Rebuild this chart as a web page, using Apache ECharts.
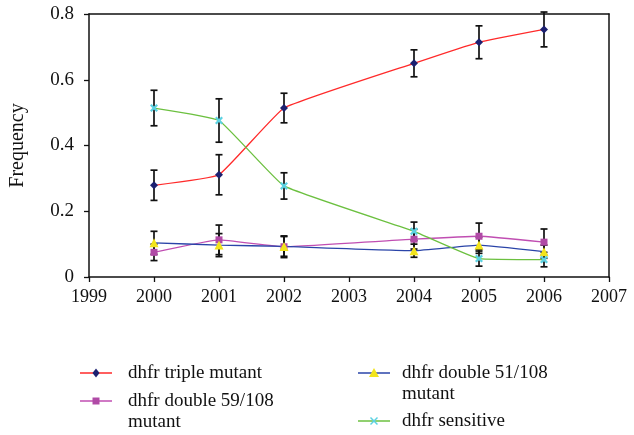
<!DOCTYPE html>
<html><head><meta charset="utf-8">
<script src="https://cdn.jsdelivr.net/npm/echarts@6/dist/echarts.min.js"></script>
<style>html,body{margin:0;padding:0;background:#fff}#c{width:634px;height:435px}</style>
</head><body><div id="c"></div>
<script>
var years = [2000, 2001, 2002, 2004, 2005, 2006];
var seriesNames = ['dhfr triple mutant', 'dhfr double 59/108 mutant', 'dhfr double 51/108 mutant', 'dhfr sensitive'];
var tripleVals = [0.279, 0.311, 0.514, 0.650, 0.714, 0.753];
var tripleErr = [0.046, 0.061, 0.045, 0.041, 0.050, 0.053];
var d59Vals = [0.075, 0.113, 0.092, 0.115, 0.124, 0.106];
var d59Err = [0.025, 0.045, 0.033, 0.030, 0.040, 0.040];
var d51Vals = [0.104, 0.097, 0.093, 0.080, 0.097, 0.077];
var d51Err = [0.035, 0.035, 0.030, 0.020, 0.025, 0.020];
var sensVals = [0.514, 0.476, 0.277, 0.139, 0.056, 0.053];
var sensErr = [0.054, 0.066, 0.040, 0.028, 0.023, 0.022];
var xTicks = [1999, 2007, 1];
var yTicks = [0, 0.8, 0.2];

var lineColors = ['#ff2a2a', '#c04eb2', '#2a44a8', '#6cc040'];
var symColors = ['#1c2070', '#b04aa6', '#f2e41c', '#5cd2e2'];
var xPath = 'path://M0,2L2,0L5,3L8,0L10,2L7,5L10,8L8,10L5,7L2,10L0,8L3,5Z';
var symbols = ['diamond', 'rect', 'triangle', xPath];
var symSizes = [8, 7, 9, 8];
var allVals = [tripleVals, d59Vals, d51Vals, sensVals];
var allErr = [tripleErr, d59Err, d51Err, sensErr];

var FONT = '"Liberation Serif","DejaVu Serif",serif';

function pairs(vals) { return years.map(function (y, i) { return [y, vals[i]]; }); }

var series = [];
allVals.forEach(function (vals, k) {
  series.push({
    type: 'custom', name: seriesNames[k] + ' err', z: 3,
    data: years.map(function (y, i) { return [y, vals[i] - allErr[k][i], vals[i] + allErr[k][i]]; }),
    renderItem: function (params, api) {
      var lo = api.coord([api.value(0), api.value(1)]);
      var hi = api.coord([api.value(0), api.value(2)]);
      var w = 3.5;
      var st = { stroke: '#111', lineWidth: 1.7 };
      return { type: 'group', children: [
        { type: 'line', shape: { x1: lo[0], y1: lo[1], x2: hi[0], y2: hi[1] }, style: st },
        { type: 'line', shape: { x1: lo[0] - w, y1: lo[1], x2: lo[0] + w, y2: lo[1] }, style: st },
        { type: 'line', shape: { x1: hi[0] - w, y1: hi[1], x2: hi[0] + w, y2: hi[1] }, style: st }
      ]};
    },
    silent: true
  });
});
allVals.forEach(function (vals, k) {
  series.push({
    type: 'line', name: seriesNames[k], data: pairs(vals), z: 4,
    smooth: 0.1,
    symbol: symbols[k], symbolSize: symSizes[k], showSymbol: true,
    lineStyle: { color: lineColors[k], width: 1.3 },
    itemStyle: { color: symColors[k], borderWidth: 0 },
    emphasis: { disabled: true }
  });
});

var legendPos = [
  { lx: 80, ly: 373, tx: 128, lines: ['dhfr triple mutant'] },
  { lx: 80, ly: 401, tx: 128, lines: ['dhfr double 59/108', 'mutant'] },
  { lx: 358, ly: 373, tx: 402, lines: ['dhfr double 51/108', 'mutant'] },
  { lx: 358, ly: 421, tx: 402, lines: ['dhfr sensitive'] }
];
var graphics = [];
legendPos.forEach(function (p, k) {
  graphics.push({ type: 'line', shape: { x1: p.lx, y1: p.ly, x2: p.lx + 32, y2: p.ly }, style: { stroke: lineColors[k], lineWidth: 1.5 } });
  var cx = p.lx + 16, cy = p.ly;
  var sym;
  if (k === 0) sym = { type: 'polygon', shape: { points: [[cx, cy - 4.5], [cx + 3.5, cy], [cx, cy + 4.5], [cx - 3.5, cy]] }, style: { fill: symColors[0] } };
  else if (k === 1) sym = { type: 'rect', shape: { x: cx - 3.5, y: cy - 3.5, width: 7, height: 7 }, style: { fill: symColors[1] } };
  else if (k === 2) sym = { type: 'polygon', shape: { points: [[cx, cy - 5], [cx + 5, cy + 4], [cx - 5, cy + 4]] }, style: { fill: symColors[2] } };
  else sym = { type: 'group', children: [
    { type: 'line', shape: { x1: cx - 3.5, y1: cy - 3.5, x2: cx + 3.5, y2: cy + 3.5 }, style: { stroke: symColors[3], lineWidth: 1.5 } },
    { type: 'line', shape: { x1: cx - 3.5, y1: cy + 3.5, x2: cx + 3.5, y2: cy - 3.5 }, style: { stroke: symColors[3], lineWidth: 1.5 } }
  ]};
  graphics.push(sym);
  p.lines.forEach(function (t, j) {
    graphics.push({ type: 'text', x: p.tx, y: p.ly + j * 21, style: { text: t, font: '19px ' + FONT, fill: '#111', textVerticalAlign: 'middle', verticalAlign: 'middle' } });
  });
});

var axisLine = { show: true, onZero: false, lineStyle: { color: '#111', width: 1.5 } };
var option = {
  animation: false,
  backgroundColor: '#fff',
  grid: { left: 84, top: 14, right: 25, bottom: 158, containLabel: false },
  xAxis: [
    { type: 'value', min: xTicks[0], max: xTicks[1], interval: xTicks[2],
      axisLine: axisLine, axisTick: { show: true, length: 5, lineStyle: { color: '#111', width: 1.3 } },
      axisLabel: { color: '#111', fontFamily: FONT, fontSize: 18, margin: 11, formatter: function (v) { return String(v); } },
      splitLine: { show: false } },
    { type: 'value', position: 'top', min: xTicks[0], max: xTicks[1], interval: xTicks[2],
      axisLine: axisLine, axisTick: { show: false }, axisLabel: { show: false }, splitLine: { show: false } }
  ],
  yAxis: [
    { type: 'value', min: yTicks[0], max: yTicks[1], interval: yTicks[2],
      name: 'Frequency', nameLocation: 'middle', nameGap: 61, nameRotate: 90,
      nameTextStyle: { color: '#111', fontFamily: FONT, fontSize: 20 },
      axisLine: axisLine, axisTick: { show: true, length: 5, lineStyle: { color: '#111', width: 1.3 } },
      axisLabel: { color: '#111', fontFamily: FONT, fontSize: 19, margin: 15 },
      splitLine: { show: false } },
    { type: 'value', position: 'right', min: yTicks[0], max: yTicks[1], interval: yTicks[2],
      axisLine: axisLine, axisTick: { show: false }, axisLabel: { show: false }, splitLine: { show: false } }
  ],
  series: series,
  graphic: graphics
};
echarts.init(document.getElementById('c')).setOption(option);
</script></body></html>
